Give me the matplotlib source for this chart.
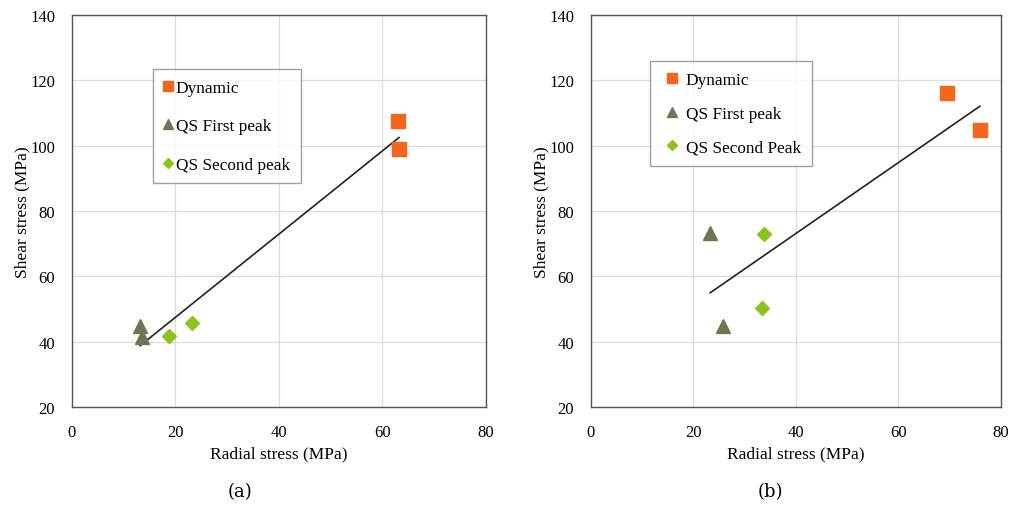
import numpy as np
import matplotlib.pyplot as plt

plt.rcParams['font.family'] = ['Liberation Serif', 'DejaVu Serif']

# --------------------------------------------------
# DATA
# --------------------------------------------------
a_dyn_x = [63.0, 63.2]
a_dyn_y = [107.4, 98.9]
a_qs1_x = [13.2, 13.5]
a_qs1_y = [44.9, 41.3]
a_qs2_x = [18.8, 23.2]
a_qs2_y = [41.8, 45.6]

b_dyn_x = [69.5, 75.9]
b_dyn_y = [116.0, 104.8]
b_qs1_x = [23.3, 25.8]
b_qs1_y = [73.3, 44.7]
b_qs2_x = [33.8, 33.5]
b_qs2_y = [73.0, 50.3]

xticks = [0, 20, 40, 60, 80]
yticks = [20, 40, 60, 80, 100, 120, 140]

c_dyn = "#f4661b"
c_qs1 = "#6f7656"
c_qs2 = "#8cc21c"


def panel(ax, dyn, qs1, qs2, labels, leg_anchor, leg_kw):
    ax.set_xlim(0, 80)
    ax.set_ylim(20, 140)
    ax.set_xticks(xticks)
    ax.set_yticks(yticks)
    ax.grid(color="#dcdcdc", linewidth=0.9)
    ax.set_axisbelow(True)
    for s in ax.spines.values():
        s.set_color("#555555")
        s.set_linewidth(1.0)
    ax.tick_params(length=0, labelsize=12, pad=12)

    ax.plot(*dyn, "s", color=c_dyn, ms=9.5, label=labels[0], zorder=3)
    ax.plot(*qs1, "^", color=c_qs1, ms=9.5, label=labels[1], zorder=3)
    ax.plot(*qs2, "D", color=c_qs2, ms=7, label=labels[2], zorder=3)

    # linear trendline over all points
    xs = np.array(dyn[0] + qs1[0] + qs2[0])
    ys = np.array(dyn[1] + qs1[1] + qs2[1])
    k, b = np.polyfit(xs, ys, 1)
    xl = np.array([xs.min(), xs.max()])
    ax.plot(xl, k * xl + b, color="#222222", lw=1.2, zorder=2)

    ax.set_xlabel("Radial stress (MPa)", fontsize=12.5, labelpad=4)
    ax.set_ylabel("Shear stress (MPa)", fontsize=12.5, labelpad=0)

    leg = ax.legend(loc="upper left", bbox_to_anchor=leg_anchor,
                    fontsize=12.4, frameon=True, fancybox=False,
                    edgecolor="#888888", handletextpad=0.15,
                    markerscale=0.75, borderaxespad=0, **leg_kw)
    leg.get_frame().set_linewidth(1.0)


fig = plt.figure(figsize=(10.13, 5.06), dpi=100)
ax1 = fig.add_axes([0.0708, 0.1937, 0.409, 0.775])
ax2 = fig.add_axes([0.5831, 0.1937, 0.405, 0.775])

panel(ax1, (a_dyn_x, a_dyn_y), (a_qs1_x, a_qs1_y), (a_qs2_x, a_qs2_y),
      ["Dynamic", "QS First peak", "QS Second peak"], (0.196, 0.862),
      dict(handlelength=0.56, labelspacing=1.3, borderpad=0.62))
panel(ax2, (b_dyn_x, b_dyn_y), (b_qs1_x, b_qs1_y), (b_qs2_x, b_qs2_y),
      ["Dynamic", "QS First peak", "QS Second Peak"], (0.145, 0.882),
      dict(handlelength=1.3, labelspacing=1.03, borderpad=0.62))

fig.text(240 / 1013, 1 - 492 / 506, "(a)", ha="center", va="center",
         fontsize=13, family="DejaVu Serif")
fig.text(770 / 1013, 1 - 492 / 506, "(b)", ha="center", va="center",
         fontsize=13, family="DejaVu Serif")

fig.savefig("out.png", dpi=100)
